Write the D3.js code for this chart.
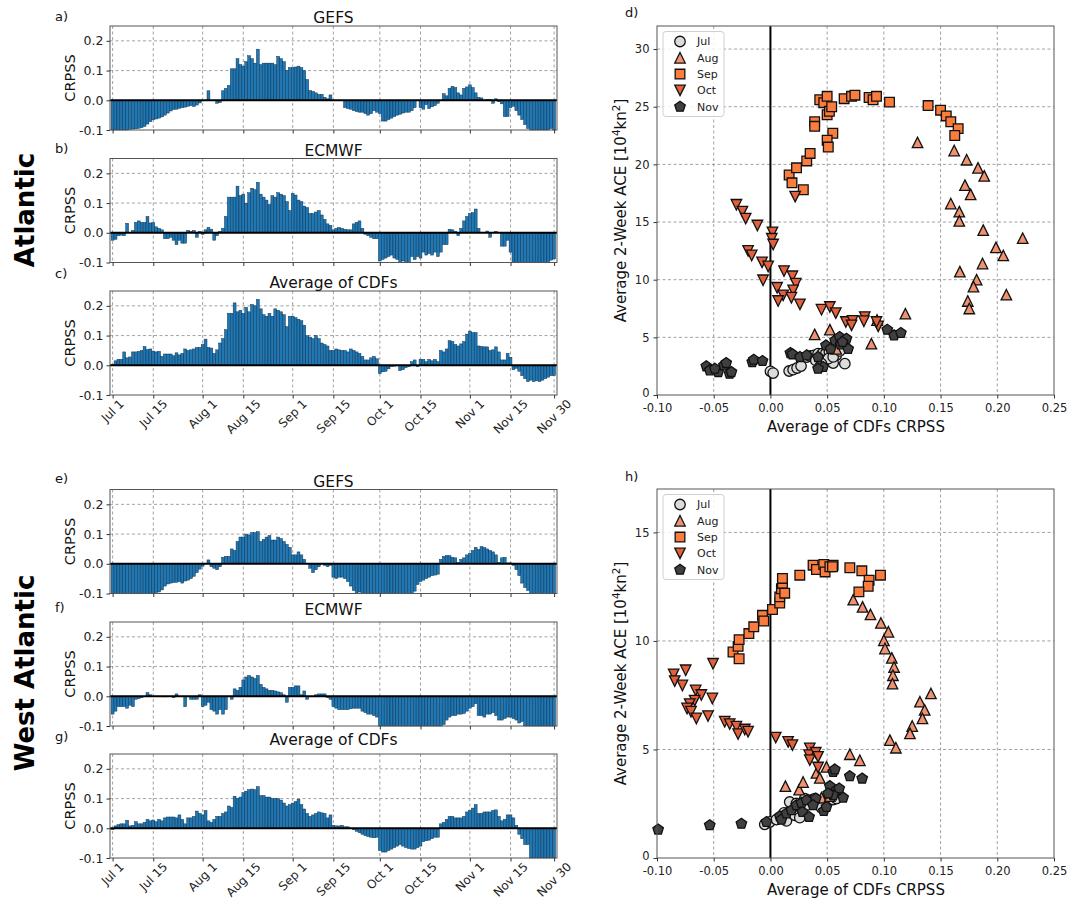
<!DOCTYPE html>
<html>
<head>
<meta charset="utf-8">
<script src="https://cdn.jsdelivr.net/npm/d3@7"></script>
<style>
body { margin: 0; background: #fff; }
svg { display: block; font-family: "DejaVu Sans", sans-serif; }
</style>
</head>
<body>
<svg id="chart" width="1071" height="899"></svg>
<script>
"use strict";

// ---- data ----
const tickDays = [0, 14, 31, 45, 62, 76, 92, 106, 123, 137, 152];
const tickLabels = ["Jul 1", "Jul 15", "Aug 1", "Aug 15", "Sep 1", "Sep 15", "Oct 1", "Oct 15", "Nov 1", "Nov 15", "Nov 30"];
const crpssTicks = [-0.1, 0.0, 0.1, 0.2];

// daily CRPSS, Jul 1 .. Nov 30
const atlGefs = [
  -0.1,-0.1,-0.1,-0.1,-0.1,-0.1,-0.098,-0.097,-0.096,-0.094,-0.092,-0.088,
  -0.08,-0.072,-0.066,-0.063,-0.06,-0.056,-0.05,-0.043,-0.036,-0.031,-0.03,-0.027,-0.025,
  -0.023,-0.02,-0.018,-0.021,-0.016,-0.009,
  -0.002,0.0,0.032,0.0,0.0,-0.01,-0.008,0.032,0.04,0.05,
  0.106,0.106,0.14,0.12,0.115,0.13,0.15,0.14,0.125,0.172,
  0.12,0.125,0.125,0.125,0.125,0.12,0.148,0.14,0.13,0.1,
  0.11,0.11,0.112,0.115,0.11,0.1,0.07,0.033,0.03,0.025,
  0.02,0.02,0.01,0.005,0.018,0.0,0.0,0.0,0.0,-0.025,
  -0.028,-0.03,-0.035,-0.038,-0.04,-0.04,-0.045,-0.05,-0.045,-0.035,
  -0.04,-0.045,-0.07,-0.07,-0.065,-0.06,-0.055,-0.05,-0.047,-0.043,
  -0.04,-0.04,-0.035,-0.025,0.0,-0.025,-0.03,-0.015,-0.028,-0.022,
  -0.018,-0.01,0.0,0.022,0.015,0.04,0.047,0.043,0.025,0.018,
  0.04,0.045,0.052,0.043,0.025,0.01,0.008,0.0,0.003,0.002,
  -0.01,0.005,-0.005,-0.012,-0.055,-0.055,-0.025,-0.02,-0.035,-0.05,
  -0.065,-0.082,-0.095,-0.1,-0.1,-0.1,-0.1,-0.1,-0.1,-0.1,-0.095,-0.1
];
const atlEcmwf = [
  -0.025,-0.022,-0.01,-0.008,-0.01,0.032,0.0,0.008,0.035,0.04,
  0.035,0.035,0.055,0.033,0.035,0.02,0.015,0.01,-0.02,-0.02,
  -0.015,-0.025,-0.04,-0.025,-0.035,-0.035,0.008,0.005,0.008,-0.015,
  0.005,-0.005,0.01,0.018,0.012,-0.025,-0.01,0.005,0.015,0.055,
  0.12,0.12,0.12,0.157,0.125,0.13,0.1,0.135,0.15,0.145,
  0.17,0.13,0.12,0.11,0.095,0.125,0.12,0.135,0.13,0.125,
  0.105,0.075,0.132,0.127,0.11,0.105,0.09,0.085,0.065,0.065,
  0.07,0.075,0.06,0.045,0.03,0.025,0.01,0.015,0.018,0.015,
  0.012,0.01,0.01,0.03,0.035,0.04,0.015,-0.005,-0.01,-0.015,
  -0.02,-0.02,-0.095,-0.09,-0.085,-0.08,-0.075,-0.085,-0.09,-0.1,
  -0.095,-0.1,-0.1,-0.08,-0.09,-0.08,-0.085,-0.065,-0.075,-0.07,
  -0.075,-0.065,-0.08,-0.065,-0.04,-0.04,0.012,0.01,0.005,-0.01,
  0.015,0.04,0.055,0.065,0.068,0.08,0.015,0.002,0.0,0.006,
  -0.015,0.002,0.005,0.0,-0.045,-0.045,-0.025,-0.065,-0.1,-0.1,
  -0.1,-0.1,-0.1,-0.1,-0.1,-0.1,-0.1,-0.1,-0.1,-0.1,-0.1,-0.092,-0.088
];
const atlAvg = [
  0.002,0.015,0.02,0.02,0.045,0.025,0.028,0.045,0.045,0.047,
  0.05,0.063,0.053,0.055,0.048,0.045,0.047,0.03,0.038,0.038,
  0.038,0.032,0.042,0.035,0.04,0.055,0.05,0.052,0.055,0.06,
  0.06,0.07,0.088,0.06,0.058,0.04,0.052,0.075,0.09,0.12,
  0.175,0.175,0.21,0.18,0.185,0.175,0.195,0.18,0.205,0.2,
  0.222,0.19,0.17,0.165,0.175,0.165,0.19,0.185,0.18,0.17,
  0.13,0.165,0.165,0.16,0.155,0.15,0.135,0.1,0.095,0.09,
  0.1,0.09,0.075,0.07,0.065,0.05,0.05,0.055,0.052,0.05,
  0.05,0.045,0.055,0.05,0.045,0.04,0.03,0.018,0.018,0.025,
  0.03,0.022,-0.028,-0.022,-0.02,-0.012,-0.005,-0.003,-0.002,-0.018,
  -0.015,-0.008,-0.005,0.012,0.018,-0.005,0.02,0.02,0.012,0.02,
  0.015,0.02,0.012,0.05,0.045,0.055,0.083,0.08,0.07,0.065,
  0.072,0.08,0.105,0.115,0.11,0.11,0.065,0.063,0.062,0.062,
  0.05,0.052,0.062,0.045,0.018,0.018,0.04,0.027,-0.015,-0.01,
  -0.02,-0.035,-0.045,-0.055,-0.05,-0.055,-0.052,-0.055,-0.05,-0.045,-0.04,-0.035,-0.035
];
const watGefs = [
  -0.1,-0.1,-0.1,-0.1,-0.1,-0.1,-0.1,-0.1,-0.1,-0.1,
  -0.1,-0.1,-0.1,-0.1,-0.1,-0.097,-0.095,-0.088,-0.075,-0.068,
  -0.065,-0.063,-0.062,-0.06,-0.065,-0.058,-0.055,-0.05,-0.042,-0.03,
  -0.018,-0.008,0.0,0.013,-0.01,-0.015,-0.02,-0.01,0.022,0.025,
  0.025,0.05,0.045,0.075,0.09,0.09,0.1,0.097,0.105,0.105,
  0.108,0.075,0.082,0.09,0.095,0.08,0.08,0.09,0.085,0.075,
  0.065,0.055,0.03,0.03,0.04,0.03,0.015,0.0,-0.015,-0.03,
  -0.02,-0.01,0.0,-0.005,-0.01,-0.005,-0.045,-0.05,-0.045,-0.045,
  -0.05,-0.06,-0.075,-0.09,-0.1,-0.095,-0.1,-0.1,-0.1,-0.1,
  -0.1,-0.1,-0.1,-0.1,-0.1,-0.1,-0.1,-0.1,-0.1,-0.1,
  -0.1,-0.1,-0.1,-0.1,-0.092,-0.07,-0.06,-0.055,-0.05,-0.045,
  -0.04,-0.038,-0.035,0.015,0.025,0.028,0.027,0.022,0.02,0.005,
  0.015,0.02,0.03,0.035,0.045,0.055,0.048,0.058,0.055,0.05,
  0.045,0.04,0.03,0.005,0.02,0.022,0.003,0.003,-0.005,-0.02,
  -0.04,-0.065,-0.08,-0.09,-0.1,-0.1,-0.1,-0.1,-0.1,-0.1,-0.1,-0.1,-0.1
];
const watEcmwf = [
  -0.06,-0.05,-0.035,-0.035,-0.035,-0.04,-0.03,-0.035,-0.01,-0.008,
  -0.005,0.0,0.012,0.005,0.0,0.0,0.0,0.0,-0.002,0.0,
  0.0,-0.005,0.008,0.0,0.0,-0.035,0.0,-0.01,-0.01,-0.01,
  0.005,-0.035,-0.03,-0.02,-0.045,-0.05,-0.06,-0.045,-0.06,-0.045,
  0.0,-0.01,0.025,0.02,0.03,0.055,0.065,0.07,0.065,0.06,
  0.07,0.04,0.03,0.025,0.02,0.02,0.018,0.015,0.012,0.005,
  -0.02,0.03,0.03,0.035,0.035,0.005,0.018,-0.01,0.0,0.0,
  0.005,0.008,0.008,0.008,-0.005,-0.01,-0.035,-0.04,-0.045,-0.045,
  -0.045,-0.045,-0.042,-0.04,-0.04,-0.04,-0.05,-0.055,-0.06,-0.06,
  -0.065,-0.07,-0.1,-0.1,-0.1,-0.1,-0.1,-0.1,-0.1,-0.1,
  -0.1,-0.1,-0.1,-0.1,-0.1,-0.1,-0.1,-0.1,-0.1,-0.1,
  -0.1,-0.1,-0.1,-0.1,-0.095,-0.08,-0.07,-0.065,-0.065,-0.06,
  -0.06,-0.058,-0.05,-0.04,-0.035,-0.025,-0.065,-0.065,-0.07,-0.06,
  -0.06,-0.055,-0.065,-0.08,-0.08,-0.075,-0.07,-0.07,-0.075,-0.08,
  -0.09,-0.085,-0.1,-0.1,-0.1,-0.1,-0.1,-0.1,-0.1,-0.1,-0.1,-0.1,-0.1
];
const watAvg = [
  -0.005,0.008,0.012,0.015,0.015,0.027,0.008,0.01,0.022,0.015,
  0.015,0.02,0.03,0.025,0.028,0.022,0.03,0.025,0.035,0.038,
  0.038,0.038,0.035,0.045,0.03,0.015,0.035,0.035,0.04,0.058,
  0.05,0.045,0.06,0.025,0.02,0.03,0.04,0.04,0.05,0.055,
  0.075,0.07,0.108,0.1,0.105,0.12,0.125,0.13,0.132,0.13,
  0.14,0.11,0.11,0.105,0.105,0.1,0.1,0.1,0.095,0.085,
  0.075,0.08,0.085,0.09,0.098,0.08,0.065,0.05,0.04,0.045,
  0.05,0.055,0.052,0.05,0.035,0.045,0.01,0.008,0.008,0.01,
  0.005,0.005,0.0,-0.005,-0.01,-0.015,-0.02,-0.025,-0.028,-0.03,
  -0.032,-0.03,-0.075,-0.08,-0.08,-0.075,-0.07,-0.065,-0.06,-0.055,
  -0.06,-0.065,-0.068,-0.07,-0.07,-0.065,-0.06,-0.045,-0.042,-0.04,
  -0.035,-0.03,-0.03,0.015,0.02,0.03,0.04,0.04,0.035,0.035,
  0.035,0.04,0.055,0.06,0.068,0.08,0.05,0.05,0.055,0.055,
  0.055,0.06,0.062,0.04,0.025,0.03,0.045,0.045,0.035,0.01,
  -0.02,-0.035,-0.055,-0.055,-0.1,-0.1,-0.1,-0.1,-0.1,-0.1,-0.1,-0.1,-0.1
];

// scatter: [Average of CDFs CRPSS, 2-week ACE]
const months = ["Jul", "Aug", "Sep", "Oct", "Nov"];
const monthShapes = ["circle", "triUp", "square", "triDown", "pentagon"];
const monthColors = ["#dcdcdc", "#f09170", "#fb7d3e", "#e2603c", "#404040"];

const atlJul = [[0.0,2.05],[0.0024,1.9],[0.0165,2.08],[0.02,2.2],[0.0235,2.34],[0.027,2.51],[0.032,3.29],[0.035,3.38],
  [0.0385,3.44],[0.042,3.58],[0.0456,3.58],[0.049,3.64],[0.052,3.73],[0.0553,2.77],[0.0656,2.72],[0.058,3.44],
  [0.051,3.15],[0.045,2.72],[0.04,3.0],[0.0553,3.3],[0.0612,3.82],[0.0435,2.43]];
const atlAug = [[0.1297,21.9],[0.162,21.2],[0.173,20.4],[0.183,19.7],[0.1885,19.0],[0.1715,18.2],[0.1765,17.4],
  [0.159,16.6],[0.1665,15.9],[0.1665,15.1],[0.1876,14.3],[0.2224,13.6],[0.1988,12.8],[0.2053,12.1],[0.187,11.4],
  [0.167,10.7],[0.1818,10.0],[0.179,9.4],[0.208,8.7],[0.174,8.15],[0.1753,7.5],[0.119,7.05],[0.094,6.5],
  [0.0524,5.67],[0.039,5.26],[0.089,4.45],[0.058,4.0]];
const atlSep = [[0.0165,19.08],[0.019,18.4],[0.023,19.7],[0.029,17.8],[0.032,20.3],[0.035,20.95],[0.039,23.7],
  [0.039,23.3],[0.0435,25.6],[0.047,25.35],[0.05,25.9],[0.05,24.3],[0.052,24.6],[0.054,25.0],[0.055,22.7],
  [0.05,22.1],[0.051,21.5],[0.065,25.7],[0.0715,25.9],[0.0745,26.0],[0.087,25.8],[0.0905,25.6],[0.0935,25.9],
  [0.105,25.4],[0.139,25.1],[0.15,24.7],[0.155,24.2],[0.159,23.7],[0.1655,23.1],[0.1625,22.5]];
const atlOct = [[0.0218,17.2],[-0.03,16.5],[-0.0247,15.9],[-0.0218,15.3],[-0.0115,14.7],[0.0018,14.1],[0.0012,13.55],
  [0.0024,13.05],[-0.0197,12.5],[-0.0165,12.1],[-0.0074,11.5],[-0.002,11.15],[-0.0065,9.95],[0.012,10.75],
  [0.0194,10.3],[0.0224,9.65],[0.0059,9.3],[0.02,9.07],[0.0112,8.64],[0.0068,8.15],[0.0185,8.44],[0.026,7.86],
  [0.045,7.4],[0.0524,7.63],[0.0576,7.1],[0.0665,6.33],[0.0724,6.42],[0.0715,6.04],[0.0832,6.76],[0.0824,6.4],
  [0.095,5.95],[0.0935,6.33]];
const atlNov = [[-0.0565,2.49],[-0.0535,2.14],[-0.046,1.99],[-0.049,2.28],[-0.041,2.57],[-0.039,2.77],[-0.036,1.85],
  [-0.0344,1.99],[-0.016,2.86],[-0.0147,3.06],[-0.007,2.95],[0.0176,3.64],[0.0194,3.53],[0.026,3.29],[0.032,3.44],
  [0.042,3.29],[0.0465,2.43],[0.049,4.3],[0.053,4.0],[0.057,4.74],[0.061,5.03],[0.062,4.39],[0.067,4.88],
  [0.0685,4.0],[0.103,5.66],[0.109,5.17],[0.115,5.38],[0.0635,4.6],[0.042,2.28]];

const watJul = [[-0.005,1.55],[-0.0006,1.66],[0.0053,1.77],[0.0097,1.89],[0.0141,1.71],[0.017,2.12],[0.017,2.58],
  [0.0215,1.97],[0.0259,1.86],[0.0274,2.28],[0.0318,2.43],[0.0353,2.66],[0.0391,2.74],[0.0429,2.48],[0.0553,2.69],
  [0.0582,2.74],[0.045,2.31],[0.0229,2.51],[0.0303,2.74],[0.012,2.08]];
const watAug = [[0.073,11.9],[0.0812,11.57],[0.0882,11.22],[0.0974,10.83],[0.104,10.42],[0.1,10.03],[0.101,9.65],
  [0.107,9.22],[0.109,8.8],[0.108,8.42],[0.1076,8.03],[0.1415,7.58],[0.1318,7.2],[0.136,6.82],[0.134,6.43],
  [0.125,6.08],[0.123,5.74],[0.1053,5.43],[0.1106,5.08],[0.07,4.78],[0.0788,4.5],[0.0406,3.92],[0.0494,4.2],
  [0.0435,3.69],[0.0132,3.31],[0.0253,3.15],[0.0288,3.5],[0.045,2.78],[0.0524,2.85]];
const watSep = [[-0.033,9.49],[-0.0285,9.75],[-0.0276,10.06],[-0.0276,9.18],[-0.019,10.34],[-0.0147,10.65],
  [-0.007,11.18],[-0.0059,10.92],[0.0018,11.45],[0.0082,11.75],[0.0082,12.03],[0.0097,12.4],[0.0106,12.65],
  [0.0106,12.88],[0.0126,12.2],[0.0259,13.03],[0.0376,13.49],[0.0406,13.29],[0.047,13.52],[0.0482,13.18],
  [0.0524,13.42],[0.0553,13.49],[0.0547,13.42],[0.07,13.37],[0.0806,13.23],[0.087,12.8],[0.0862,12.52],
  [0.078,12.26],[0.097,13.03]];
const watOct = [[-0.0506,8.95],[-0.0853,8.46],[-0.0747,8.65],[-0.0844,8.15],[-0.0776,7.95],[-0.0659,7.72],
  [-0.0609,7.51],[-0.0512,7.35],[-0.0668,7.25],[-0.0712,7.09],[-0.0735,6.89],[-0.07,6.74],[-0.0653,6.43],
  [-0.055,6.54],[-0.0403,6.28],[-0.0359,6.17],[-0.03,6.05],[-0.0285,5.71],[-0.0226,5.92],[-0.0197,5.82],
  [0.0047,5.55],[0.0156,5.35],[0.0194,5.2],[0.0347,5.05],[0.0341,4.74],[0.0347,4.51],[0.04,4.85],[0.042,4.17],
  [0.042,4.66]];
const watNov = [[-0.099,1.31],[-0.0535,1.51],[-0.0256,1.58],[-0.0035,1.66],[0.0082,1.92],[0.0097,1.77],[0.0141,2.05],
  [0.0185,2.2],[0.0229,2.43],[0.0274,2.54],[0.0282,2.12],[0.0341,1.89],[0.0318,2.66],[0.04,2.74],[0.047,2.17],
  [0.0494,2.35],[0.0524,3.31],[0.0553,3.97],[0.0568,4.08],[0.0582,3.12],[0.0606,3.2],[0.0553,2.89],[0.0641,2.78],
  [0.07,3.77],[0.0809,3.66],[0.0509,2.97],[0.0376,2.43]];

const svg = d3.select("#chart");
const gridColor = "#8a8a8a";
const frameColor = "#555";

function markerPath(shape, s) {
  const h = s / 2;
  if (shape === "circle") return d3.symbol(d3.symbolCircle, Math.PI * h * h)();
  if (shape === "square") { const q = h * 0.92; return `M${-q},${-q}H${q}V${q}H${-q}Z`; }
  if (shape === "triUp") return `M0,${-h}L${h},${h}L${-h},${h}Z`;
  if (shape === "triDown") return `M0,${h}L${h},${-h}L${-h},${-h}Z`;
  const pts = d3.range(5).map(k => {
    const a = -Math.PI / 2 + k * 2 * Math.PI / 5;
    return [h * 1.05 * Math.cos(a), h * 1.05 * Math.sin(a)];
  });
  return "M" + pts.join("L") + "Z";
}

function styleAxis(g, size) {
  g.attr("font-family", null).attr("font-size", size);
  g.select(".domain").remove();
  g.selectAll(".tick line").attr("stroke", "#333");
  g.selectAll(".tick text").attr("fill", "#222");
}

/**
 * Bar panel of daily CRPSS.
 */
function createBarPanel(p) {
  const top = p.top, bottom = p.top + 104;
  const x = d3.scaleLinear().domain([-0.9, 153]).range([110, 557]);
  const y = d3.scaleLinear().domain([-0.1, 0.25]).range([bottom, top]).clamp(true);
  const g = svg.append("g");

  g.selectAll("line.vg").data(tickDays).join("line")
    .attr("x1", d => x(d)).attr("x2", d => x(d))
    .attr("y1", top).attr("y2", bottom)
    .attr("stroke", gridColor).attr("stroke-width", 0.8).attr("stroke-dasharray", "3,2.5");
  g.selectAll("line.hg").data([0.1, 0.2]).join("line")
    .attr("x1", 110).attr("x2", 557)
    .attr("y1", d => y(d)).attr("y2", d => y(d))
    .attr("stroke", gridColor).attr("stroke-width", 0.8).attr("stroke-dasharray", "3,2.5");

  const bw = x(1) - x(0);
  g.selectAll("rect.bar").data(p.values).join("rect")
    .attr("x", (d, i) => x(i - 0.5))
    .attr("width", bw)
    .attr("y", d => Math.min(y(d), y(0)))
    .attr("height", d => Math.abs(y(d) - y(0)))
    .attr("fill", "#1f77b4")
    .attr("stroke", "#0c2d48").attr("stroke-width", 0.45);

  g.append("line")
    .attr("x1", 110).attr("x2", 557).attr("y1", y(0)).attr("y2", y(0))
    .attr("stroke", "#000").attr("stroke-width", 2);

  g.append("rect").attr("x", 110).attr("y", top).attr("width", 447).attr("height", 104)
    .attr("fill", "none").attr("stroke", frameColor).attr("stroke-width", 1);

  const ya = g.append("g").attr("transform", "translate(110,0)")
    .call(d3.axisLeft(y).tickValues(crpssTicks).tickFormat(d => d.toFixed(1)).tickSize(3.5).tickPadding(3));
  styleAxis(ya, 12.5);

  const xa = g.append("g").attr("transform", `translate(0,${bottom})`)
    .call(d3.axisBottom(x).tickValues(tickDays).tickFormat("").tickSize(3.5));
  styleAxis(xa, 12);

  if (p.dates) {
    const y0 = bottom + 3;
    tickDays.forEach((d, i) => {
      const t = g.append("text").attr("font-size", 12).attr("fill", "#222")
        .attr("text-anchor", "middle").attr("dy", "0.35em").text(tickLabels[i]);
      const w = t.node().getComputedTextLength();
      const half = (w + 10) * Math.SQRT1_2 / 2;
      t.attr("transform", `translate(${x(d)},${y0 + half}) rotate(-45)`);
    });
  }

  g.append("text").attr("x", 333.5).attr("y", p.titleY).attr("text-anchor", "middle")
    .attr("font-size", 15.5).attr("fill", "#111").text(p.title);
  g.append("text").attr("x", 55).attr("y", p.letterY).attr("font-size", 13).attr("fill", "#111").text(p.letter);
  g.append("text").attr("transform", `translate(75,${(top + bottom) / 2}) rotate(-90)`)
    .attr("text-anchor", "middle").attr("font-size", 14.5).attr("fill", "#111").text("CRPSS");
}

/**
 * Scatter of 2-week ACE against CRPSS by month.
 */
function createScatter(p) {
  const top = p.top, bottom = p.top + 369;
  const x = d3.scaleLinear().domain([-0.1, 0.25]).range([657, 1054]);
  const y = d3.scaleLinear().domain([0, p.yMax]).range([bottom, top]);
  const xTicks = [-0.1, -0.05, 0, 0.05, 0.1, 0.15, 0.2, 0.25];
  const g = svg.append("g");

  g.selectAll("line.vg").data(xTicks.slice(1, -1)).join("line")
    .attr("x1", d => x(d)).attr("x2", d => x(d)).attr("y1", top).attr("y2", bottom)
    .attr("stroke", gridColor).attr("stroke-width", 0.8).attr("stroke-dasharray", "3,2.5");
  g.selectAll("line.hg").data(p.yTicks.slice(1)).join("line")
    .attr("x1", 657).attr("x2", 1054).attr("y1", d => y(d)).attr("y2", d => y(d))
    .attr("stroke", gridColor).attr("stroke-width", 0.8).attr("stroke-dasharray", "3,2.5");

  g.append("line").attr("x1", x(0)).attr("x2", x(0)).attr("y1", top).attr("y2", bottom)
    .attr("stroke", "#000").attr("stroke-width", 2);

  p.series.forEach((pts, m) => {
    g.append("g").selectAll("path").data(pts).join("path")
      .attr("d", markerPath(monthShapes[m], 10.5))
      .attr("transform", d => `translate(${x(d[0])},${y(d[1])})`)
      .attr("fill", monthColors[m]).attr("stroke", "#111").attr("stroke-width", 1.3)
      .attr("stroke-linejoin", "miter");
  });

  g.append("rect").attr("x", 657).attr("y", top).attr("width", 397).attr("height", 369)
    .attr("fill", "none").attr("stroke", frameColor).attr("stroke-width", 1);

  const xa = g.append("g").attr("transform", `translate(0,${bottom})`)
    .call(d3.axisBottom(x).tickValues(xTicks).tickFormat(d => d.toFixed(2)).tickSize(3.5).tickPadding(5.5));
  styleAxis(xa, 11.5);
  const ya = g.append("g").attr("transform", "translate(657,0)")
    .call(d3.axisLeft(y).tickValues(p.yTicks).tickFormat(d3.format("d")).tickSize(3.5).tickPadding(4));
  styleAxis(ya, 11.5);
  // lift the "0" label a touch so it clears the first x label
  ya.selectAll(".tick text").filter(d => d === 0).attr("dy", "0.1em");

  // legend
  const lg = g.append("g").attr("transform", `translate(663,${top + 5.5})`);
  lg.append("rect").attr("width", 61).attr("height", 85).attr("rx", 3)
    .attr("fill", "#fff").attr("fill-opacity", 0.85).attr("stroke", "#cfcfcf");
  months.forEach((mo, m) => {
    const row = lg.append("g").attr("transform", `translate(0,${10 + m * 16.3})`);
    row.append("path").attr("d", markerPath(monthShapes[m], 10.5))
      .attr("transform", "translate(17,0)")
      .attr("fill", monthColors[m]).attr("stroke", "#111").attr("stroke-width", 1.3);
    row.append("text").attr("x", 34).attr("dy", "0.35em").attr("font-size", 11).attr("fill", "#222").text(mo);
  });

  g.append("text").attr("x", 856).attr("y", bottom + 37).attr("text-anchor", "middle")
    .attr("font-size", 15).attr("fill", "#111").text("Average of CDFs CRPSS");
  const yl = g.append("text").attr("transform", `translate(626,${(top + bottom) / 2}) rotate(-90)`)
    .attr("text-anchor", "middle").attr("font-size", 15).attr("fill", "#111");
  yl.append("tspan").text("Average 2-Week ACE [10");
  yl.append("tspan").attr("dy", -6).attr("font-size", 10.5).text("4");
  yl.append("tspan").attr("dy", 6).text("kn");
  yl.append("tspan").attr("dy", -6).attr("font-size", 10.5).text("2");
  yl.append("tspan").attr("dy", 6).text("]");

  g.append("text").attr("x", 625).attr("y", p.letterY).attr("font-size", 13).attr("fill", "#111").text(p.letter);
}

const barPanels = [
  { top: 26, values: atlGefs, title: "GEFS", letter: "a)", titleY: 23, letterY: 21 },
  { top: 158.5, values: atlEcmwf, title: "ECMWF", letter: "b)", titleY: 156, letterY: 153 },
  { top: 291, values: atlAvg, title: "Average of CDFs", letter: "c)", titleY: 288, letterY: 278, dates: true },
  { top: 489.5, values: watGefs, title: "GEFS", letter: "e)", titleY: 486.5, letterY: 483 },
  { top: 622, values: watEcmwf, title: "ECMWF", letter: "f)", titleY: 615, letterY: 612 },
  { top: 754, values: watAvg, title: "Average of CDFs", letter: "g)", titleY: 745, letterY: 741, dates: true }
];
barPanels.forEach(createBarPanel);

createScatter({ top: 26, yMax: 32, yTicks: [0, 5, 10, 15, 20, 25, 30], letter: "d)", letterY: 17,
  series: [atlJul, atlAug, atlSep, atlOct, atlNov] });
createScatter({ top: 489, yMax: 17, yTicks: [0, 5, 10, 15], letter: "h)", letterY: 481,
  series: [watJul, watAug, watSep, watOct, watNov] });

svg.append("text").attr("transform", "translate(34,210) rotate(-90)").attr("text-anchor", "middle")
  .attr("font-size", 26).attr("font-weight", "bold").attr("fill", "#000").text("Atlantic");
svg.append("text").attr("transform", "translate(34,673) rotate(-90)").attr("text-anchor", "middle")
  .attr("font-size", 26).attr("font-weight", "bold").attr("fill", "#000").text("West Atlantic");
</script>
</body>
</html>
